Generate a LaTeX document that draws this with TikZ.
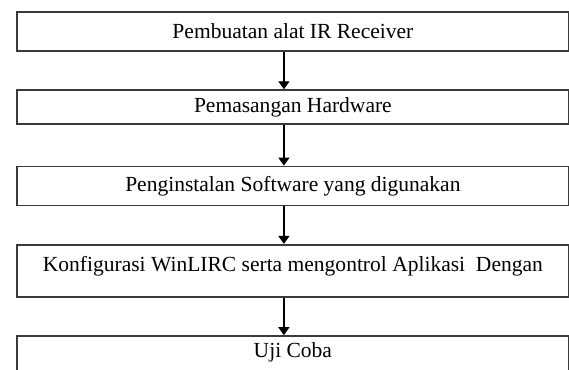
\documentclass[tikz,border=0pt]{standalone}
\usepackage{fontspec}
\setmainfont{Liberation Serif}
\usetikzlibrary{matrix, arrows.meta}
\definecolor{boxline}{HTML}{3A3A3A}
\tikzset{box/.style = {draw = boxline, line width = .9bp, minimum width = 276bp, minimum height = 19.5bp, inner sep = 0pt, font = \fontsize{10.8}{13}\selectfont},
  flow/.style = {line width = .7bp, -{Triangle[width = 5.5bp, length = 4bp]}}}

\begin{document}
\begin{tikzpicture}
\matrix (m) [matrix of nodes, row sep = 18.75bp]{
\node(b1)[box]{Pembuatan alat IR Receiver}; \\
\node(b2)[box, minimum height = 17bp]{Pemasangan Hardware}; \\[1.5bp]
\node(b3)[box]{Penginstalan Software yang digunakan}; \\
\node(b4)[box, minimum height = 26bp, text height = 7.5bp, text depth = 7bp]{Konfigurasi WinLIRC serta mengontrol Aplikasi \ Dengan}; \\
\node(b5)[box, minimum height = 20bp, text height = 7.5bp, text depth = 6.5bp]{Uji Coba}; \\
};
\draw [flow] ([xshift = -4.5bp]b1.south) -- ([xshift = -4.5bp]b2.north);
\draw [flow] ([xshift = -4.5bp]b2.south) -- ([xshift = -4.5bp]b3.north);
\draw [flow] ([xshift = -4.5bp]b3.south) -- ([xshift = -4.5bp]b4.north);
\draw [flow] ([xshift = -4.5bp]b4.south) -- ([xshift = -4.5bp]b5.north);
\pgfresetboundingbox
\useasboundingbox ([shift = {(-8bp,5.5bp)}]b1.north west) rectangle ++(284.5bp,-185bp);
\end{tikzpicture}
\end{document}
